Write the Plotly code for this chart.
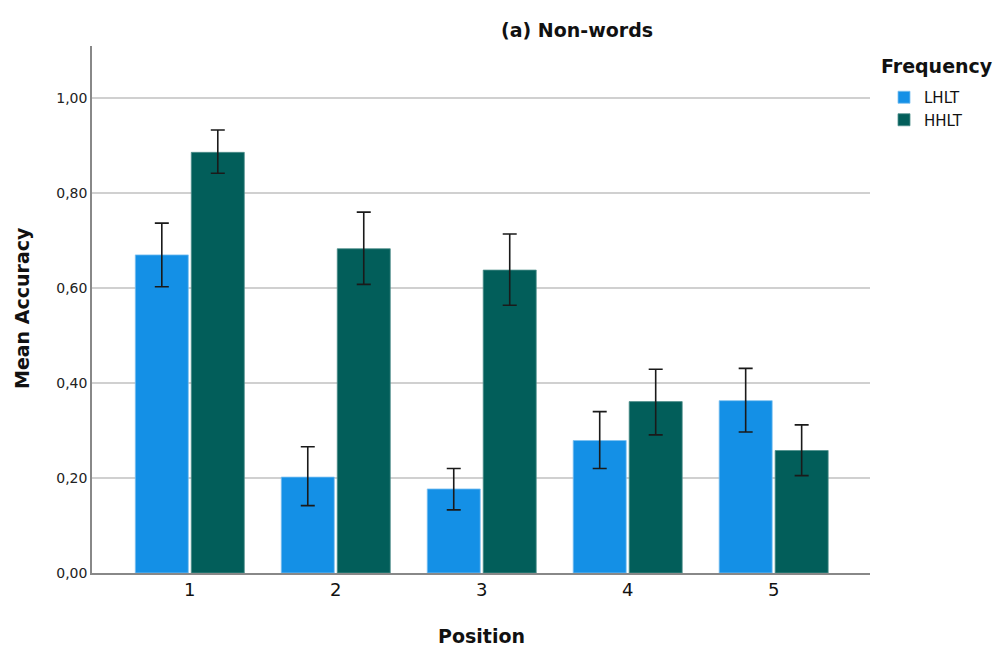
import plotly.graph_objects as go

positions = [1, 2, 3, 4, 5]
position_labels = ["1", "2", "3", "4", "5"]
lhlt_mean = [0.670, 0.202, 0.177, 0.279, 0.363]
lhlt_hi = [0.737, 0.266, 0.220, 0.340, 0.431]
lhlt_lo = [0.603, 0.142, 0.133, 0.220, 0.297]
hhlt_mean = [0.886, 0.683, 0.638, 0.361, 0.258]
hhlt_hi = [0.933, 0.760, 0.714, 0.429, 0.312]
hhlt_lo = [0.842, 0.608, 0.564, 0.291, 0.205]
y_ticks = [0.0, 0.2, 0.4, 0.6, 0.8, 1.0]

FONT = "DejaVu Sans"
L, R, T, B = 92, 125, 46, 73
W, H = 995, 646
PW, PH = W - L - R, H - T - B

def px_x(x):
    return (x - L) / PW

def px_y(y):
    return (H - B - y) / PH

def err(mean, hi, lo):
    return dict(type="data", symmetric=False,
                array=[h - m for h, m in zip(hi, mean)],
                arrayminus=[m - l for m, l in zip(mean, lo)],
                color="#1a1a1a", thickness=1.6, width=7)

fig = go.Figure()
fig.add_trace(go.Bar(x=positions, y=lhlt_mean, name="LHLT",
                     marker=dict(color="#1490E6", line=dict(color="#7cc0f0", width=0.8)),
                     error_y=err(lhlt_mean, lhlt_hi, lhlt_lo)))
fig.add_trace(go.Bar(x=positions, y=hhlt_mean, name="HHLT",
                     marker=dict(color="#025E5A", line=dict(color="#4f8f8c", width=0.8)),
                     error_y=err(hhlt_mean, hhlt_hi, hhlt_lo)))

fig.update_layout(
    width=W, height=H,
    margin=dict(l=L, r=R, t=T, b=B, autoexpand=False),
    paper_bgcolor="white", plot_bgcolor="white",
    barmode="group", bargap=0.233, bargroupgap=0.053,
    separators=",.",
    font=dict(family=FONT, color="#222"),
    showlegend=True,
    legend=dict(x=px_x(884), xanchor="left", y=px_y(81), yanchor="top",
                font=dict(size=15, color="#111"),
                itemwidth=30, tracegroupgap=0, bgcolor="rgba(0,0,0,0)"),
    annotations=[
        dict(text="<b>(a) Non-words</b>", x=px_x(577), y=px_y(30), xref="paper", yref="paper",
             xanchor="center", yanchor="middle", showarrow=False,
             font=dict(size=19, color="#111")),
        dict(text="<b>Frequency</b>", x=px_x(879), y=px_y(66), xref="paper", yref="paper",
             xanchor="left", yanchor="middle", showarrow=False,
             font=dict(size=19, color="#111")),
        dict(text="<b>Position</b>", x=px_x(482), y=px_y(636), xref="paper", yref="paper",
             xanchor="center", yanchor="middle", showarrow=False,
             font=dict(size=19, color="#111")),
        dict(text="<b>Mean Accuracy</b>", x=px_x(22), y=px_y(308), xref="paper", yref="paper",
             xanchor="center", yanchor="middle", showarrow=False, textangle=-90,
             font=dict(size=19, color="#111")),
    ],
)

fig.update_xaxes(range=[0.33, 5.66], tickvals=positions, ticktext=position_labels,
                 showline=True, linecolor="#888", linewidth=1.5, showgrid=False,
                 ticks="", tickfont=dict(size=18, color="#111"), automargin=False)
fig.update_yaxes(range=[0, 1.11], tickvals=y_ticks, tickformat=".2f",
                 showline=True, linecolor="#888", linewidth=1.5,
                 showgrid=True, gridcolor="#d0d0d0", gridwidth=1.5, zeroline=False,
                 ticks="", tickfont=dict(size=14, color="#222"), automargin=False)

fig.write_html("out.html",
               config={"displayModeBar": False},
               post_script="document.body.style.margin='0';document.body.style.overflow='hidden';")
